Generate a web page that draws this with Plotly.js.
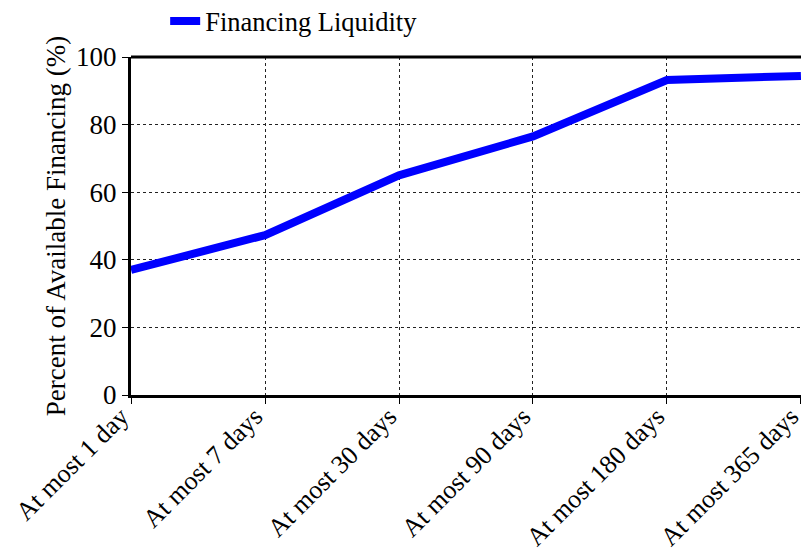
<!DOCTYPE html>
<html><head><meta charset="utf-8">
<script src="https://cdn.plot.ly/plotly-3.0.1.min.js"></script>
<style>body{margin:0;padding:0;background:#fff}#chart{width:801px;height:554px}</style>
</head><body><div id="chart"></div>
<script>
var categories = ["At most 1 day","At most 7 days","At most 30 days","At most 90 days","At most 180 days","At most 365 days"];
var financingLiquidity = [37.0, 47.3, 65.0, 76.5, 93.2, 94.4];
var yTicks = [0, 20, 40, 60, 80, 100];
var seriesName = "Financing Liquidity";

var xIdx = categories.map(function(c, i){ return i; });
var trace = {
  x: xIdx,
  y: financingLiquidity,
  type: "scatter", mode: "lines", name: seriesName,
  line: {color: "#0000ff", width: 8},
  showlegend: true
};
var font = {family: "Liberation Serif, serif", size: 27, color: "#000"};
var xFont = {family: "Liberation Serif, serif", size: 26, color: "#000"};
var legFont = {family: "Liberation Serif, serif", size: 26.5, color: "#000"};
var layout = {
  width: 801, height: 554,
  margin: {l: 131, r: 0, t: 57, b: 159, pad: 0, autoexpand: false},
  paper_bgcolor: "#fff", plot_bgcolor: "#fff",
  font: font,
  showlegend: true,
  legend: {orientation: "h", x: 0.051, xanchor: "left", y: 1.106, yanchor: "middle",
           font: legFont, bgcolor: "rgba(0,0,0,0)"},
  xaxis: {
    range: [-0.0005, 5.0005], tickmode: "array",
    tickvals: xIdx,
    ticktext: categories, tickangle: -45, ticklabeloverflow: "allow",
    ticklabelstandoff: -13, ticklabelshift: -10,
    ticks: "outside", ticklen: 6, tickwidth: 1, tickcolor: "#000",
    showline: true, linecolor: "#000", linewidth: 3, mirror: false,
    showgrid: true, gridcolor: "#222", griddash: "3px,3px", gridwidth: 1,
    zeroline: false, tickfont: xFont, automargin: false
  },
  yaxis: {
    range: [0, 100], tickmode: "array", tickvals: yTicks,
    ticks: "outside", ticklen: 6, tickwidth: 1, tickcolor: "#000",
    showline: true, linecolor: "#000", linewidth: 3,
    showgrid: true, gridcolor: "#222", griddash: "3px,3px", gridwidth: 1,
    zeroline: false, tickfont: font, automargin: false,
    title: {text: "Percent of Available Financing (%)", font: font, standoff: 3}
  },
  shapes: [{type: "line", xref: "paper", yref: "paper", x0: 0, x1: 1, y0: 1, y1: 1,
            line: {color: "#000", width: 3}}]
};
Plotly.newPlot("chart", [trace], layout, {displayModeBar: false, staticPlot: true});
</script></body></html>
